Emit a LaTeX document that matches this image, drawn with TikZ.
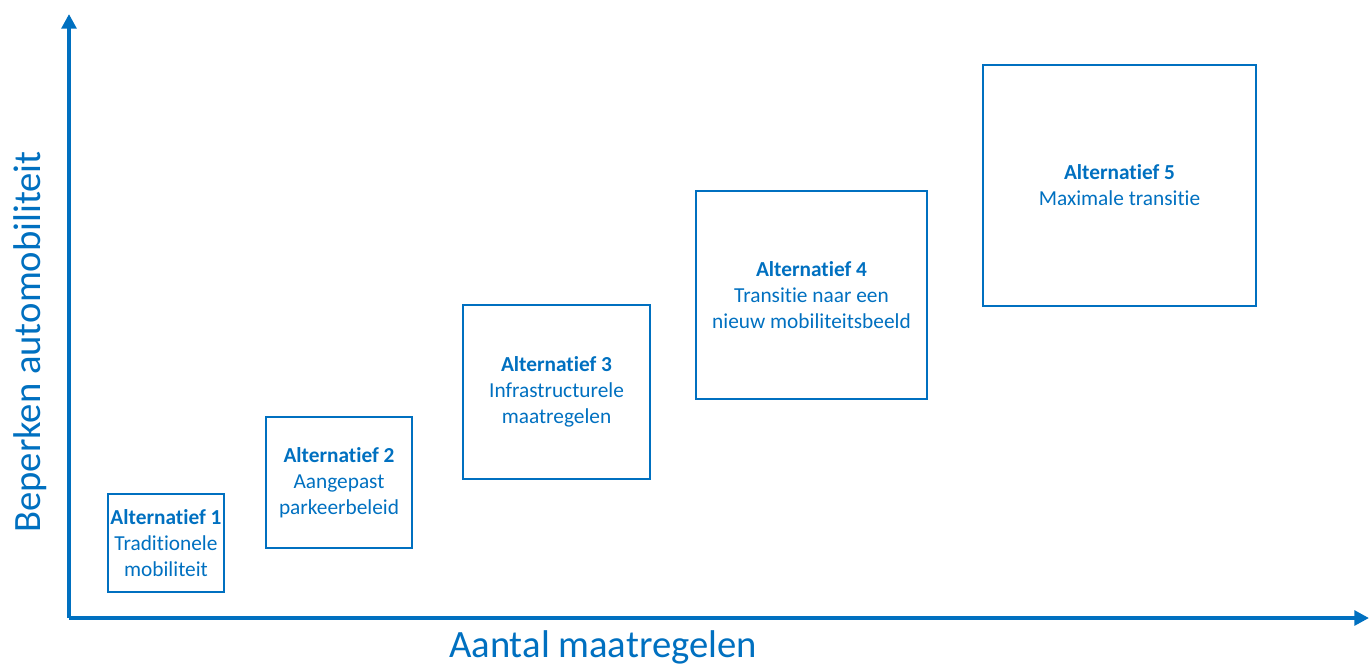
\documentclass[tikz,border=0pt]{standalone}
\usepackage{fontspec}
\setmainfont[Ligatures={NoCommon}]{Carlito}
\usetikzlibrary{arrows.meta}
\definecolor{altblue}{HTML}{0070C0}
\begin{document}
\begin{tikzpicture}[x=0.75pt, y=-0.75pt,
  altbox/.style={draw=altblue, line width=1.5pt, text=altblue, align=center,
    font=\fontsize{16}{19.5}\selectfont, inner sep=0pt},
  axis/.style={draw=altblue, line width=3pt, -{Triangle[length=11pt,width=11pt]}},
  axislabel/.style={text=altblue, font=\fontsize{29}{34}\selectfont, inner sep=0pt}]
% Fix the picture size
\useasboundingbox (0, 0) rectangle (1369, 664);

% Draw the axes
\coordinate (origin) at (69, 618);
\coordinate (ytip) at (69, 14);
\coordinate (xtip) at (1369, 618);
\draw[axis] (origin) -- (ytip);
\draw[axis] (origin) -- (xtip);
\node[axislabel, anchor=base] (xlabel) at (603, 657) {Aantal maatregelen};
\node[axislabel, anchor=base, rotate=90] (ylabel) at (40, 342) {Beperken automobiliteit};

% Draw the alternatives
\node[altbox, minimum width=87pt, minimum height=73.5pt] (alt1) at (166, 543)
  {\textbf{Alternatief 1}\\Traditionele\\mobiliteit};
\node[altbox, minimum width=109.5pt, minimum height=98.25pt] (alt2) at (339, 482.5)
  {\textbf{Alternatief 2}\\Aangepast\\parkeerbeleid};
\node[altbox, minimum width=140.25pt, minimum height=130.5pt] (alt3) at (556.5, 392)
  {\textbf{Alternatief 3}\\Infrastructurele\\maatregelen};
\node[altbox, minimum width=173.25pt, minimum height=156pt] (alt4) at (811.5, 295)
  {\textbf{Alternatief 4}\\Transitie naar een\\nieuw mobiliteitsbeeld};
\node[altbox, minimum width=204.75pt, minimum height=180.75pt] (alt5) at (1119.5, 185.5)
  {\textbf{Alternatief 5}\\Maximale transitie};
\end{tikzpicture}
\end{document}
